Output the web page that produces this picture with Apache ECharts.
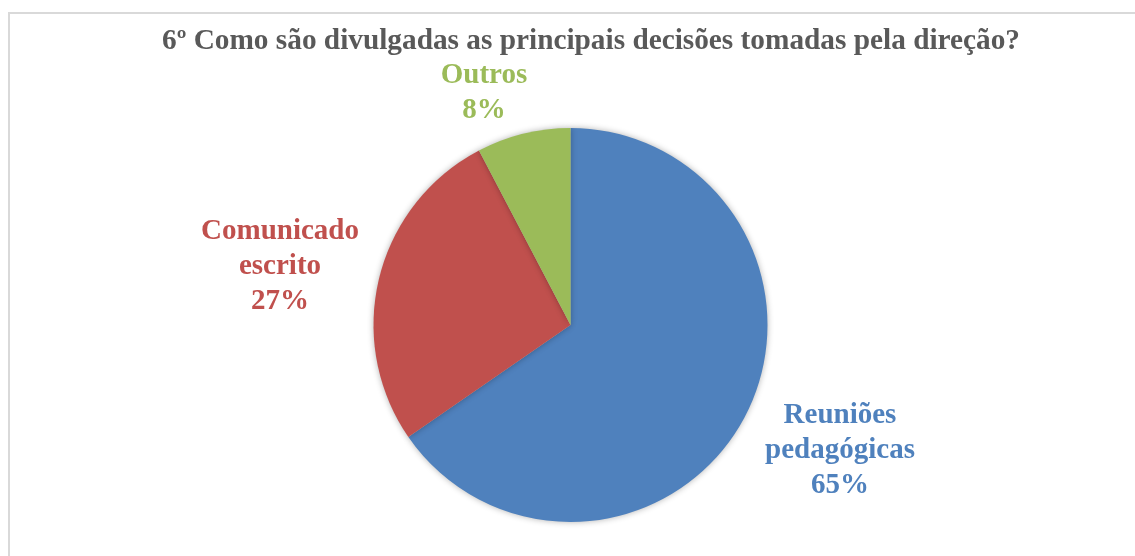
<!DOCTYPE html>
<html>
<head>
<meta charset="utf-8">
<script src="https://cdn.jsdelivr.net/npm/echarts@6/dist/echarts.min.js"></script>
<style>
html,body{margin:0;padding:0;background:#fff;}
#chart{width:1135px;height:556px;}
</style>
</head>
<body>
<div id="chart"></div>
<script>
var titleText = '6º Como são divulgadas as principais decisões tomadas pela direção?';
var categories = ['Reuniões\npedagógicas', 'Comunicado\nescrito', 'Outros'];
var values = [17, 7, 2];
var colors = ['#4F81BD', '#C0504D', '#9BBB59'];
// label anchor points (centre of each label block), in pixels
var labelAnchors = [[840, 451], [280, 267], [484, 93]];

var chart = echarts.init(document.getElementById('chart'), null, {renderer: 'canvas'});
var data = categories.map(function (c, i) {
  return {
    name: c,
    value: values[i],
    itemStyle: {color: colors[i]},
    label: {color: colors[i]}
  };
});
chart.setOption({
  animation: false,
  backgroundColor: '#fff',
  graphic: [{
    type: 'rect',
    shape: {x: 9, y: 13, width: 1140, height: 560},
    style: {fill: 'none', stroke: '#d9d9d9', lineWidth: 2},
    silent: true
  }],
  title: {
    text: titleText,
    left: 157,
    top: 22,
    textStyle: {
      fontFamily: '"Liberation Serif", "Times New Roman", serif',
      fontWeight: 'bold',
      fontSize: 29.3,
      color: '#595959'
    }
  },
  series: [{
    type: 'pie',
    center: [570.5, 325],
    radius: 197,
    startAngle: 90,
    clockwise: true,
    data: data,
    itemStyle: {
      borderWidth: 0,
      shadowBlur: 6,
      shadowColor: 'rgba(0,0,0,0.3)'
    },
    label: {
      show: true,
      position: 'outside',
      formatter: function (p) { return p.name + '\n' + Math.round(p.percent) + '%'; },
      fontFamily: '"Liberation Serif", "Times New Roman", serif',
      fontWeight: 'bold',
      fontSize: 29,
      lineHeight: 35,
      align: 'center'
    },
    labelLine: {show: false},
    labelLayout: function (p) {
      var a = labelAnchors[p.dataIndex];
      return {x: a[0], y: a[1], align: 'center', verticalAlign: 'middle', moveOverlap: null};
    }
  }]
});
</script>
</body>
</html>
